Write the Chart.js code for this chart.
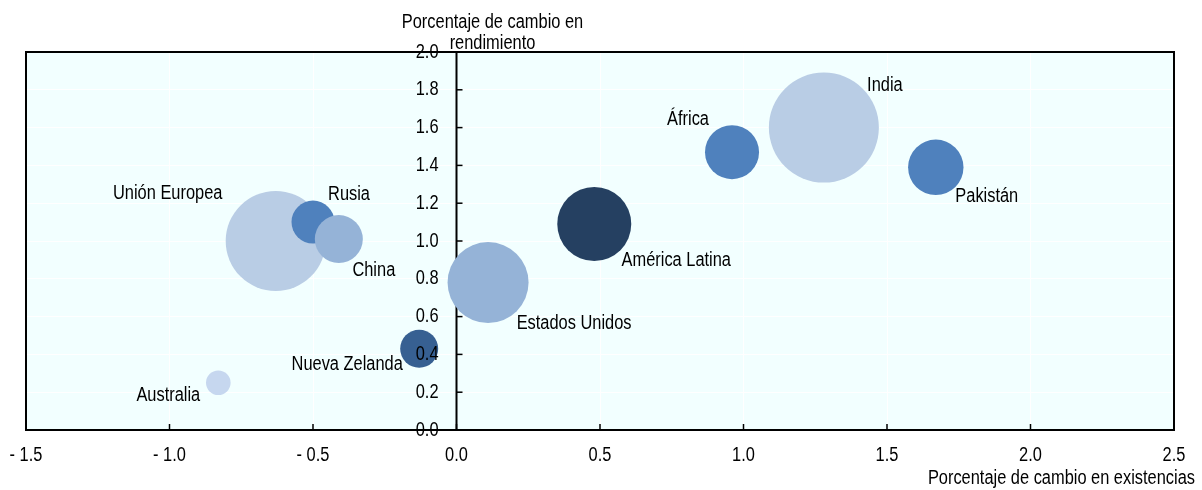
<!DOCTYPE html>
<html>
<head>
<meta charset="utf-8">
<script src="https://cdn.jsdelivr.net/npm/chart.js@4.4.1/dist/chart.umd.min.js"></script>
<style>
  html, body { margin: 0; padding: 0; background: #ffffff; }
  #wrap { width: 1202px; height: 490px; position: relative; }
</style>
</head>
<body>
<div id="wrap"><canvas id="c" width="1202" height="490"></canvas></div>
<script>
// ---- data ----
const regions = ['Unión Europea', 'Rusia', 'China', 'Nueva Zelanda', 'Australia',
                 'Estados Unidos', 'América Latina', 'África', 'India', 'Pakistán'];
const stockChange = [-0.63, -0.50, -0.41, -0.13, -0.83, 0.11, 0.48, 0.96, 1.28, 1.67];
const yieldChange = [1.00, 1.10, 1.01, 0.43, 0.25, 0.78, 1.09, 1.47, 1.60, 1.39];
const bubbleSize  = [50, 21.5, 24, 19, 12.3, 40.5, 37, 27, 55, 27.7];
const xTickValues = [-1.5, -1.0, -0.5, 0.0, 0.5, 1.0, 1.5, 2.0, 2.5];
const yTickValues = [0.0, 0.2, 0.4, 0.6, 0.8, 1.0, 1.2, 1.4, 1.6, 1.8, 2.0];
const xTitle = 'Porcentaje de cambio en existencias';
const yTitle = ['Porcentaje de cambio en', 'rendimiento'];

// ---- styles ----
const bubbleColors = ['#B9CDE5', '#4F81BD', '#95B3D7', '#376092', '#C6D7EF',
                      '#95B3D7', '#254061', '#4F81BD', '#B9CDE5', '#4F81BD'];
// label centre offset from bubble centre (px)
const labelOffsets = [[-108, -48], [36, -28], [35, 31], [-72, 16], [-50, 13],
                      [86, 41], [82, 36], [-44, -33], [61, -42], [51, 29]];
const FONT = "'Liberation Sans', Arial, sans-serif";
const FS = 20;
const SQUEEZE = 0.82; // narrow face
const fmt = v => {
  const a = Math.abs(v).toFixed(1);
  return v < -1e-9 ? '- ' + a : a;
};

function narrowText(ctx, text, x, y, align) {
  ctx.save();
  ctx.translate(x, y);
  ctx.scale(SQUEEZE, 1);
  ctx.textAlign = align;
  ctx.fillText(text, 0, 0);
  ctx.restore();
}

class FlatBubbleController extends Chart.BubbleController {
  getMaxOverflow() { return false; }
}
FlatBubbleController.id = 'flatBubble';
FlatBubbleController.defaults = Chart.BubbleController.defaults;
FlatBubbleController.overrides = Chart.BubbleController.overrides;
Chart.register(FlatBubbleController);

const points = regions.map((name, i) => ({ x: stockChange[i], y: yieldChange[i], r: bubbleSize[i] }));

const bgPlugin = {
  id: 'bg',
  beforeDraw(chart) {
    const { ctx, chartArea: a } = chart;
    ctx.save();
    ctx.fillStyle = '#F2FFFF';
    ctx.fillRect(a.left, a.top, a.right - a.left, a.bottom - a.top);
    ctx.restore();
  },
  beforeDatasetsDraw(chart) {
    const { ctx, chartArea: a, scales: { x, y } } = chart;
    ctx.save();
    ctx.strokeStyle = '#000';
    ctx.lineWidth = 2;
    ctx.beginPath();
    ctx.moveTo(a.left, a.bottom);
    ctx.lineTo(a.left, a.top);
    ctx.lineTo(a.right, a.top);
    ctx.lineTo(a.right, a.bottom);
    ctx.stroke();
    const x0 = x.getPixelForValue(0);
    ctx.beginPath();
    ctx.moveTo(x0, a.top);
    ctx.lineTo(x0, a.bottom);
    ctx.stroke();
    ctx.lineWidth = 1.5;
    y.ticks.forEach(t => {
      const py = y.getPixelForValue(t.value);
      ctx.beginPath();
      ctx.moveTo(x0, py);
      ctx.lineTo(x0 + 6, py);
      ctx.stroke();
    });
    const y0 = y.getPixelForValue(0);
    x.ticks.forEach(t => {
      const px = x.getPixelForValue(t.value);
      ctx.beginPath();
      ctx.moveTo(px, y0);
      ctx.lineTo(px, y0 - 6);
      ctx.stroke();
    });
    ctx.lineWidth = 2;
    ctx.beginPath();
    ctx.moveTo(a.left - 1, y0);
    ctx.lineTo(a.right + 1, y0);
    ctx.stroke();
    ctx.restore();
  },
  afterDatasetsDraw(chart) {
    const { ctx } = chart;
    const meta = chart.getDatasetMeta(0);
    ctx.save();
    ctx.fillStyle = '#000';
    ctx.font = FS + 'px ' + FONT;
    ctx.textBaseline = 'middle';
    meta.data.forEach((el, i) => {
      narrowText(ctx, regions[i], el.x + labelOffsets[i][0], el.y + labelOffsets[i][1], 'center');
    });
    ctx.restore();
  },
  afterDraw(chart) {
    const { ctx, chartArea: a, scales: { x, y } } = chart;
    ctx.save();
    ctx.fillStyle = '#000';
    ctx.font = FS + 'px ' + FONT;
    ctx.textBaseline = 'middle';
    const x0 = x.getPixelForValue(0);
    yTickValues.forEach(v => {
      narrowText(ctx, fmt(v), x0 - 18, y.getPixelForValue(v), 'right');
    });
    const y0 = y.getPixelForValue(0);
    xTickValues.forEach(v => {
      narrowText(ctx, fmt(v), x.getPixelForValue(v), y0 + 25, 'center');
    });
    narrowText(ctx, yTitle[0], x0 + 36, a.top - 30, 'center');
    narrowText(ctx, yTitle[1], x0 + 36, a.top - 9, 'center');
    narrowText(ctx, xTitle, a.right + 21, y0 + 48, 'right');
    ctx.restore();
  }
};

new Chart(document.getElementById('c'), {
  type: 'flatBubble',
  data: {
    datasets: [{
      data: points,
      backgroundColor: bubbleColors,
      hoverBackgroundColor: bubbleColors,
      borderWidth: 0,
      hoverBorderWidth: 0
    }]
  },
  options: {
    responsive: false,
    animation: false,
    devicePixelRatio: 1,
    layout: { padding: { left: 26, right: 28, top: 52, bottom: 60 } },
    plugins: { legend: { display: false }, tooltip: { enabled: false } },
    events: [],
    scales: {
      x: {
        type: 'linear',
        position: { y: 0 },
        min: -1.5, max: 2.5,
        afterBuildTicks: s => { s.ticks = xTickValues.map(v => ({ value: v })); },
        grid: { color: '#FFFFFF', lineWidth: 1, drawTicks: false },
        border: { display: false },
        ticks: { display: false }
      },
      y: {
        type: 'linear',
        position: { x: 0 },
        min: 0, max: 2.0,
        afterBuildTicks: s => { s.ticks = yTickValues.map(v => ({ value: v })); },
        grid: { color: '#FFFFFF', lineWidth: 1, drawTicks: false },
        border: { display: false },
        ticks: { display: false }
      }
    }
  },
  plugins: [bgPlugin]
});
</script>
</body>
</html>
